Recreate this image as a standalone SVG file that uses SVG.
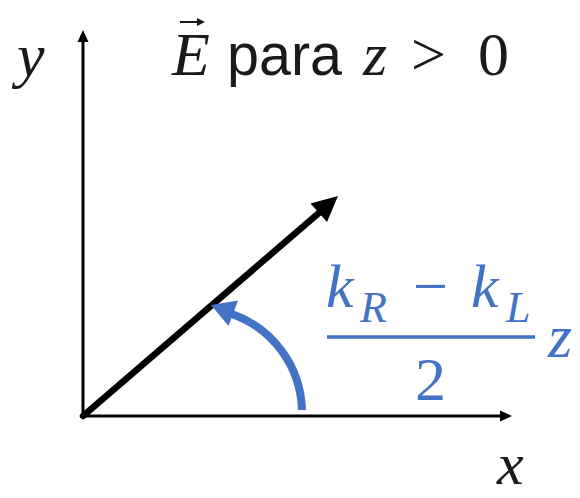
<svg xmlns="http://www.w3.org/2000/svg" width="580" height="498" viewBox="0 0 580 498">
  <style>
    .math { font-family: "Liberation Serif", "DejaVu Serif", serif; font-style: italic; font-size: 62px; fill: #1a1a1a; }
    .up { font-family: "Liberation Serif", "DejaVu Serif", serif; font-size: 62px; fill: #1a1a1a; }
    .sans { font-family: "Liberation Sans", "Open Sans", sans-serif; font-size: 60px; fill: #1a1a1a; }
    .blue { fill: #4472C4; }
    .sub { font-size: 44px; }
  </style>
  <rect width="580" height="498" fill="#ffffff"/>
  <g id="connectors">
    <g id="y-axis">
      <line x1="83" y1="416" x2="83" y2="40" stroke="#000" stroke-width="3"/>
      <polygon points="83,30 77.5,42 88.5,42" fill="#000"/>
    </g>
    <g id="x-axis">
      <line x1="83" y1="416" x2="500" y2="416" stroke="#000" stroke-width="3"/>
      <polygon points="512,416 500,410.5 500,421.5" fill="#000"/>
    </g>
    <g id="field-vector">
      <line x1="83" y1="416" x2="320" y2="212" stroke="#000" stroke-width="6.5" stroke-linecap="round"/>
      <polygon points="338,196 327,222 310.5,203.5" fill="#000"/>
    </g>
    <g id="angle-arc">
      <path d="M 302 410 A 105 105 0 0 0 232 314" fill="none" stroke="#4472C4" stroke-width="8"/>
      <polygon points="211,305 238,300.5 228.5,326" fill="#4472C4"/>
    </g>
  </g>
  <g id="label-y">
    <text class="math" x="17" y="76">y</text>
  </g>
  <g id="title">
    <text class="math" x="172" y="75">E</text>
    <line x1="180" y1="22" x2="200" y2="22" stroke="#1a1a1a" stroke-width="2"/>
    <polygon points="205,22 197,18 197,26" fill="#1a1a1a"/>
    <text class="sans" x="227" y="75" textLength="115" lengthAdjust="spacingAndGlyphs">para</text>
    <text class="math" x="363" y="75">z</text>
    <text class="up" x="411" y="75">&gt;</text>
    <text class="up" x="478" y="75">0</text>
  </g>
  <g id="angle-label">
    <text class="math blue" x="326" y="307">k</text>
    <text class="math blue sub" x="360" y="322">R</text>
    <text class="up blue" x="413" y="307">−</text>
    <text class="math blue" x="471" y="307">k</text>
    <text class="math blue sub" x="506" y="322">L</text>
    <line x1="327" y1="337" x2="535" y2="337" stroke="#4472C4" stroke-width="3.5"/>
    <text class="up blue" x="415" y="400">2</text>
    <text class="math blue" x="548" y="357">z</text>
  </g>
  <g id="label-x">
    <text class="math" x="497" y="484" style="font-size:60px">x</text>
  </g>
</svg>
